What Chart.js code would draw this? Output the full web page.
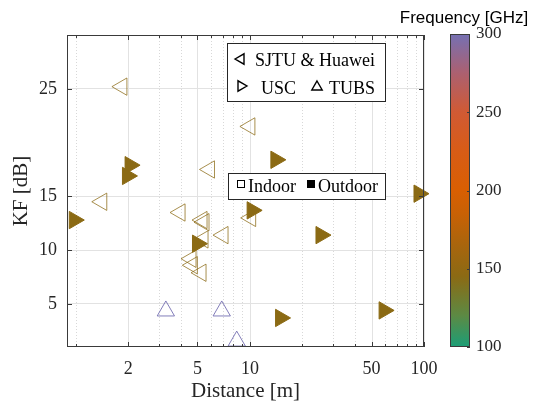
<!DOCTYPE html>
<html>
<head>
<meta charset="utf-8">
<script src="https://cdn.jsdelivr.net/npm/chart.js@4.4.1/dist/chart.umd.min.js"></script>
<style>
  html, body { margin: 0; padding: 0; background: #fff; }
  #wrap { width: 533px; height: 409px; }
</style>
</head>
<body>
<div id="wrap"><canvas id="kf" width="533" height="409"></canvas></div>
<script>
// SJTU & Huawei: indoor, hollow left triangles
const sjtuDist = [1.84, 1.41, 10.0, 5.86, 3.97, 5.31, 5.45, 7.01, 10.1, 5.38, 4.59, 4.67, 5.24];
const sjtuKF   = [25.2, 14.5, 21.5, 17.5, 13.5, 12.8, 12.6, 11.4, 13.0, 11.0, 9.2, 8.6, 7.9];
const sjtuFreq = [145, 145, 145, 145, 145, 145, 145, 145, 145, 145, 145, 145, 145];
// USC: outdoor, filled right triangles
const uscDist = [0.98, 2.05, 1.98, 5.0, 10.3, 14.1, 25.6, 15.0, 59, 93.6];
const uscKF   = [12.8, 17.9, 16.9, 10.6, 13.7, 18.4, 11.4, 3.7, 4.4, 15.25];
const uscFreq = [145, 145, 145, 145, 145, 145, 145, 145, 145, 145];
// TUBS: indoor, hollow up triangles
const tubsDist = [3.29, 6.89, 8.4];
const tubsKF   = [4.35, 4.35, 1.55];
const tubsFreq = [300, 300, 300];

const xTickVals = [1, 2, 3, 4, 5, 6, 7, 8, 9, 10, 20, 30, 40, 50, 60, 70, 80, 90, 100];
const xTickLabels = [2, 5, 10, 50, 100];
const yTickVals = [5, 10, 15, 25];
const cbarTicks = [100, 150, 200, 250, 300];

// colour map of the colour bar
const cmapStops = [100, 120, 145, 165, 185, 200, 225, 250, 275, 300];
const cmapRGB = [
  [27, 158, 119], [92, 138, 68], [139, 106, 20], [168, 101, 13], [200, 97, 5],
  [217, 95, 2], [216, 92, 22], [208, 90, 52], [172, 96, 112], [117, 112, 179]
];

function cmap(f) {
  for (let i = 1; i < cmapStops.length; i++) {
    if (f <= cmapStops[i]) {
      const t = (f - cmapStops[i - 1]) / (cmapStops[i] - cmapStops[i - 1]);
      const a = cmapRGB[i - 1], b = cmapRGB[i];
      return [0, 1, 2].map(k => Math.round(a[k] + (b[k] - a[k]) * t));
    }
  }
  return cmapRGB[cmapRGB.length - 1];
}
const rgb = (c, al) => 'rgba(' + c[0] + ',' + c[1] + ',' + c[2] + ',' + (al === undefined ? 1 : al) + ')';

const SERIF = '"Liberation Serif", "Times New Roman", serif';
const SANS = '"Liberation Sans", Arial, sans-serif';
const TXT = '#262626';

function tri(ctx, x, y, r, rot, fill) {
  const rad = rot * Math.PI / 180;
  ctx.beginPath();
  for (let k = 0; k < 3; k++) {
    const a = rad + k * 2 * Math.PI / 3;
    const px = x + Math.sin(a) * r, py = y - Math.cos(a) * r;
    if (k === 0) ctx.moveTo(px, py); else ctx.lineTo(px, py);
  }
  ctx.closePath();
  if (fill) ctx.fill();
  ctx.stroke();
}

const decor = {
  id: 'decor',
  beforeDatasetsDraw(chart) {
    const {ctx, chartArea: a} = chart;
    const x = chart.scales.x;
    ctx.save();
    ctx.lineWidth = 1;
    xTickVals.forEach(v => {
      const px = Math.round(x.getPixelForValue(v)) + 0.5;
      const major = xTickLabels.includes(v);
      ctx.strokeStyle = major ? '#e2e2e2' : '#d8d8d8';
      ctx.setLineDash(major ? [] : [1, 2]);
      ctx.beginPath(); ctx.moveTo(px, a.top); ctx.lineTo(px, a.bottom); ctx.stroke();
    });
    ctx.restore();
  },
  afterDatasetsDraw(chart) {
    const {ctx, chartArea: a} = chart;
    const x = chart.scales.x, y = chart.scales.y;
    ctx.save();
    // axes box
    ctx.strokeStyle = '#3a3a3a';
    ctx.lineWidth = 1;
    ctx.strokeRect(a.left + 0.5, a.top + 0.5, a.right - a.left - 1, a.bottom - a.top - 1);
    // inward ticks
    ctx.beginPath();
    xTickVals.forEach(v => {
      const px = Math.round(x.getPixelForValue(v)) + 0.5;
      const len = xTickLabels.includes(v) ? 5 : 3;
      ctx.moveTo(px, a.bottom); ctx.lineTo(px, a.bottom - len);
      ctx.moveTo(px, a.top); ctx.lineTo(px, a.top + len);
    });
    yTickVals.forEach(v => {
      const py = Math.round(y.getPixelForValue(v)) + 0.5;
      ctx.moveTo(a.left, py); ctx.lineTo(a.left + 5, py);
      ctx.moveTo(a.right, py); ctx.lineTo(a.right - 5, py);
    });
    ctx.stroke();

    // legend 1: markers
    ctx.fillStyle = '#fff';
    ctx.fillRect(227, 43, 158, 58);
    ctx.strokeStyle = '#262626';
    ctx.strokeRect(227.5, 43.5, 158, 58);
    ctx.fillStyle = '#000';
    ctx.strokeStyle = '#000';
    ctx.lineWidth = 1.4;
    tri(ctx, 241, 59, 6, -90, false);
    tri(ctx, 241, 86, 6, 90, false);
    tri(ctx, 317, 87, 6, 0, false);
    ctx.font = '18px ' + SERIF;
    ctx.textBaseline = 'alphabetic';
    ctx.fillText('SJTU & Huawei', 255, 66);
    ctx.fillText('USC', 261, 94);
    ctx.fillText('TUBS', 329, 94);

    // legend 2: indoor / outdoor
    ctx.lineWidth = 1;
    ctx.fillStyle = '#fff';
    ctx.fillRect(228, 173, 157, 26);
    ctx.strokeStyle = '#262626';
    ctx.strokeRect(228.5, 173.5, 157, 26);
    ctx.strokeStyle = '#000';
    ctx.fillStyle = '#000';
    ctx.strokeRect(237.5, 180.5, 7, 7);
    ctx.fillRect(307, 180, 8, 8);
    ctx.fillText('Indoor', 248, 192);
    ctx.fillText('Outdoor', 318, 192);

    // colour bar
    const cbL = 450, cbR = 470, cbT = 34, cbB = 347;
    const fy = f => cbB - (f - 100) / 200 * (cbB - cbT);
    const g = ctx.createLinearGradient(0, cbB, 0, cbT);
    cmapStops.forEach((f, i) => g.addColorStop((f - 100) / 200, rgb(cmapRGB[i])));
    ctx.fillStyle = g;
    ctx.fillRect(cbL, cbT, cbR - cbL, cbB - cbT);
    ctx.strokeStyle = '#3a3a3a';
    ctx.strokeRect(cbL + 0.5, cbT + 0.5, cbR - cbL - 1, cbB - cbT - 1);
    ctx.beginPath();
    cbarTicks.forEach(f => {
      const py = Math.round(fy(f)) + 0.5;
      ctx.moveTo(cbR - 3, py); ctx.lineTo(cbR, py);
    });
    ctx.stroke();
    ctx.fillStyle = TXT;
    ctx.font = '17px ' + SERIF;
    ctx.textBaseline = 'middle';
    ctx.textAlign = 'left';
    cbarTicks.forEach(f => ctx.fillText(String(f), 476, fy(f)));
    ctx.font = '17px ' + SANS;
    ctx.textAlign = 'center';
    ctx.fillStyle = '#000';
    ctx.fillText('Frequency [GHz]', 464, 18);
    ctx.restore();
  }
};

const chart = new Chart(document.getElementById('kf'), {
  type: 'scatter',
  data: {
    datasets: [
      {
        label: 'USC',
        data: uscDist.map((d, i) => ({x: d, y: uscKF[i]})),
        pointStyle: 'triangle',
        pointRotation: 90,
        pointRadius: 10,
        pointBackgroundColor: uscFreq.map(f => rgb(cmap(f))),
        pointBorderColor: uscFreq.map(f => rgb(cmap(f))),
        pointBorderWidth: 1,
        order: 0,
        clip: false
      },
      {
        label: 'SJTU & Huawei',
        data: sjtuDist.map((d, i) => ({x: d, y: sjtuKF[i]})),
        pointStyle: 'triangle',
        pointRotation: -90,
        pointRadius: 10,
        pointBackgroundColor: 'rgba(0,0,0,0)',
        pointBorderColor: sjtuFreq.map(f => rgb(cmap(f), 0.75)),
        pointBorderWidth: 1,
        order: 1,
        clip: false
      },
      {
        label: 'TUBS',
        data: tubsDist.map((d, i) => ({x: d, y: tubsKF[i]})),
        pointStyle: 'triangle',
        pointRotation: 0,
        pointRadius: 10,
        pointBackgroundColor: 'rgba(0,0,0,0)',
        pointBorderColor: tubsFreq.map(f => rgb(cmap(f), 0.9)),
        pointBorderWidth: 1,
        order: 2,
        clip: false
      }
    ]
  },
  options: {
    responsive: false,
    animation: false,
    events: [],
    layout: { padding: { left: 0, top: 35, right: 109, bottom: 0 } },
    plugins: { legend: { display: false }, tooltip: { enabled: false } },
    scales: {
      x: {
        type: 'logarithmic',
        min: 0.89,
        max: 100,
        afterBuildTicks: s => { s.ticks = xTickVals.map(v => ({value: v})); },
        afterFit: s => { s.height = 62; },
        grid: { display: false },
        border: { display: false },
        ticks: {
          autoSkip: false,
          maxRotation: 0,
          padding: 3,
          color: TXT,
          font: { family: SERIF, size: 18 },
          callback: v => xTickLabels.includes(v) ? String(v) : ''
        },
        title: {
          display: true,
          text: 'Distance [m]',
          color: TXT,
          font: { family: SERIF, size: 21 },
          padding: { top: 0, bottom: 5 }
        }
      },
      y: {
        min: 1,
        max: 30,
        afterBuildTicks: s => { s.ticks = yTickVals.map(v => ({value: v})); },
        afterFit: s => { s.width = 67; },
        grid: { color: '#e2e2e2', drawTicks: false },
        border: { display: false },
        ticks: {
          padding: 10,
          color: TXT,
          font: { family: SERIF, size: 18 }
        },
        title: {
          display: true,
          text: 'KF [dB]',
          color: TXT,
          font: { family: SERIF, size: 21 },
          padding: { top: 9, bottom: 0 }
        }
      }
    }
  },
  plugins: [decor]
});
</script>
</body>
</html>
